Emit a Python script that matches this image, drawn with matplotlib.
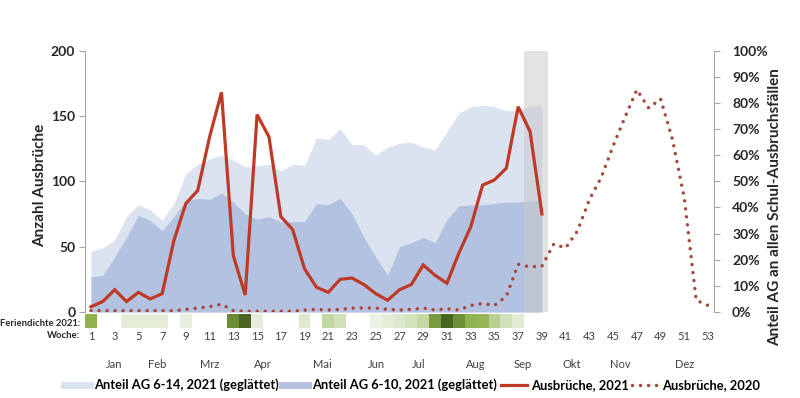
import numpy as np
import matplotlib
matplotlib.use("Agg")
import matplotlib.pyplot as plt
from matplotlib.colors import LinearSegmentedColormap
from matplotlib.lines import Line2D
from matplotlib.ticker import FuncFormatter

plt.rcParams['font.family'] = ['Lato', 'DejaVu Sans']

# ---------------- data ----------------
weeks_all = np.arange(1, 54)
weeks_2021 = np.arange(1, 40)

ausbrueche_2021 = [4, 8, 17, 8, 15, 10, 14, 55, 83, 93, 134, 168, 43, 13, 151, 134,
                   73, 63, 33, 19, 15, 25, 26, 21, 14, 9, 17, 21, 36, 28, 22, 45,
                   65, 97, 101, 110, 157, 138, 75]

ausbrueche_2020 = [1, 1, 1, 1, 1, 1, 1, 1, 2, 3, 4, 6, 1, 0.5, 0.5, 0.5, 0.5, 0.5,
                   1.5, 2, 1.5, 2, 3, 3, 3, 2, 1.5, 2, 3, 1.5, 2.5, 1.5, 5, 6.5, 5,
                   12, 36.5, 34.5, 35, 52, 49, 62, 86, 103, 127, 149, 170, 156, 163,
                   132, 87, 9, 5]

anteil_6_14 = [23.3, 24.5, 27.5, 36.5, 41, 39, 35, 41.5, 53, 56.5, 58.5, 60, 58,
               55.5, 56, 56.5, 54, 56.5, 56, 66.5, 66, 70, 64, 64, 60, 63, 64.5,
               65, 63, 62, 69, 76, 78.5, 79, 78.5, 77, 77, 79, 79]

anteil_6_10 = [13.5, 14, 21, 28.5, 37, 35, 31, 36.5, 42.5, 43.5, 43, 45.5, 42,
               37.5, 35.5, 36.5, 34.5, 34.5, 34.5, 41.5, 41, 43.5, 37.5, 28.5, 21,
               14, 25, 26.5, 28.5, 26.5, 35.5, 40.5, 41, 41, 41.5, 42, 42, 42.5, 42.5]

feriendichte = [0.5, 0, 0, 0.11, 0.11, 0.11, 0.11, 0, 0.09, 0, 0, 0, 0.7, 0.9, 0.1,
                0, 0, 0, 0.15, 0, 0.3, 0.22, 0, 0, 0.08, 0.11, 0.16, 0.2, 0.29,
                0.62, 0.9, 0.68, 0.5, 0.48, 0.34, 0.22, 0.12] + [0] * 16

incomplete_weeks = [38, 39]

week_ticks = list(range(1, 54, 2))
months = ['Jan', 'Feb', 'Mrz', 'Apr', 'Mai', 'Jun', 'Jul', 'Aug', 'Sep', 'Okt', 'Nov', 'Dez']
month_weeks = [3.0, 6.6, 11.0, 15.5, 20.5, 25.1, 28.6, 33.4, 37.4, 41.5, 45.6, 51.0]

left_ticks = [0, 50, 100, 150, 200]
right_ticks = list(range(0, 101, 10))

# ---------------- style ----------------
c_light = '#dbe2f0'
c_dark = '#b4c2e1'
c_red = '#bf3a26'
c_dot = '#a5483c'
c_band = '#c8c8c8'
c_axis = '#a6a6a6'
c_text = '#262626'
c_small = '#404040'

fig = plt.figure(figsize=(8.0, 3.98), dpi=100)
ax = fig.add_axes([0.10625, 0.2161, 0.78625, 0.657])
ax2 = ax.twinx()

# areas on right axis
ax2.fill_between(weeks_2021, 0, anteil_6_14, color=c_light, lw=0)
ax2.fill_between(weeks_2021, 0, anteil_6_10, color=c_dark, lw=0)
ax2.set_ylim(0, 100)
ax2.set_yticks(right_ticks)
ax2.yaxis.set_major_formatter(FuncFormatter(lambda v, p: f"{v:.0f}%"))

ax.set_zorder(ax2.get_zorder() + 1)
ax.patch.set_visible(False)

# incomplete weeks band
ax.bar(incomplete_weeks, [left_ticks[-1]] * len(incomplete_weeks), width=1.0,
       color=c_band, alpha=0.5, lw=0, zorder=1)

ax.plot(weeks_all, ausbrueche_2020, color=c_dot, lw=2.5, dashes=(0.01, 2.3),
        dash_capstyle='round', zorder=3)
ax.plot(weeks_2021, ausbrueche_2021, color=c_red, lw=2.3, zorder=4,
        solid_joinstyle='miter')

ax.set_xlim(0.5, 53.5)
ax.set_ylim(0, 200)
ax.set_yticks(left_ticks)
ax.set_xticks([])

for a in (ax, ax2):
    for s in ('top', 'bottom'):
        a.spines[s].set_visible(False)
ax.spines['right'].set_visible(False)
ax2.spines['left'].set_visible(False)
ax.spines['left'].set_color(c_axis)
ax2.spines['right'].set_color(c_axis)

ax.tick_params(axis='y', direction='out', length=4, color=c_axis, pad=3,
               labelsize=10, labelcolor=c_text)
ax2.tick_params(axis='y', direction='out', length=4, color=c_axis, pad=9,
                labelsize=10, labelcolor=c_text)
for lab in ax.get_yticklabels() + ax2.get_yticklabels():
    lab.set_fontweight('bold')

fig.text(40 / 800, 1 - 185 / 398, 'Anzahl Ausbrüche', rotation=90, ha='center',
         va='center', fontsize=11, fontweight='bold', color=c_text)
fig.text(775 / 800, 1 - 207 / 398, 'Anteil AG an allen Schul-Ausbruchsfällen',
         rotation=90, ha='center', va='center', fontsize=11, fontweight='bold',
         color=c_text)

# Feriendichte strip
axh = fig.add_axes([0.10625, 1 - 328 / 398, 0.78625, 14 / 398])
cmap = LinearSegmentedColormap.from_list('fer', [
    (0.0, '#ffffff'), (0.1, '#e6eddb'), (0.3, '#c3d7a1'), (0.5, '#8fb14e'),
    (0.7, '#6b8b35'), (0.9, '#4a6422'), (1.0, '#3e561c')])
edges = np.append(weeks_all - 0.5, weeks_all[-1] + 0.5)
axh.pcolormesh(edges, [0, 1], np.array(feriendichte)[None, :], cmap=cmap,
               vmin=0, vmax=1)
axh.set_xlim(0.5, 53.5)
axh.set_ylim(0, 1)
axh.set_yticks([])
axh.set_xticks(week_ticks)
axh.set_xticklabels([str(w) for w in week_ticks])
axh.tick_params(axis='x', length=0, pad=2, labelsize=8, labelcolor=c_small)
for s in axh.spines.values():
    s.set_visible(False)
axh.text(-0.008, 0.35, 'Feriendichte 2021:', transform=axh.transAxes, ha='right',
         va='center', fontsize=6.8, fontweight='bold', color=c_text)
axh.text(-0.008, -0.5, 'Woche:', transform=axh.transAxes, ha='right',
         va='center', fontsize=6.8, fontweight='bold', color=c_text)

for m, w in zip(months, month_weeks):
    axh.text(w, -2.6, m, ha='center', va='center', fontsize=8, color=c_small)

handles = [
    Line2D([], [], color=c_light, lw=5),
    Line2D([], [], color=c_dark, lw=5),
    Line2D([], [], color=c_red, lw=2.3),
    Line2D([], [], color=c_dot, lw=2.5, dashes=(0.01, 2.3), dash_capstyle='round'),
]
labels = ['Anteil AG 6-14, 2021 (geglättet)', 'Anteil AG 6-10, 2021 (geglättet)',
          'Ausbrüche, 2021', 'Ausbrüche, 2020']
fig.legend(handles, labels, loc='center', bbox_to_anchor=(412 / 800, 1 - 385 / 398),
           ncol=4, frameon=False, handlelength=2.0, handletextpad=0.3,
           columnspacing=0.3, prop={'weight': 'bold', 'size': 9.3})

fig.savefig('out.png', dpi=100)
